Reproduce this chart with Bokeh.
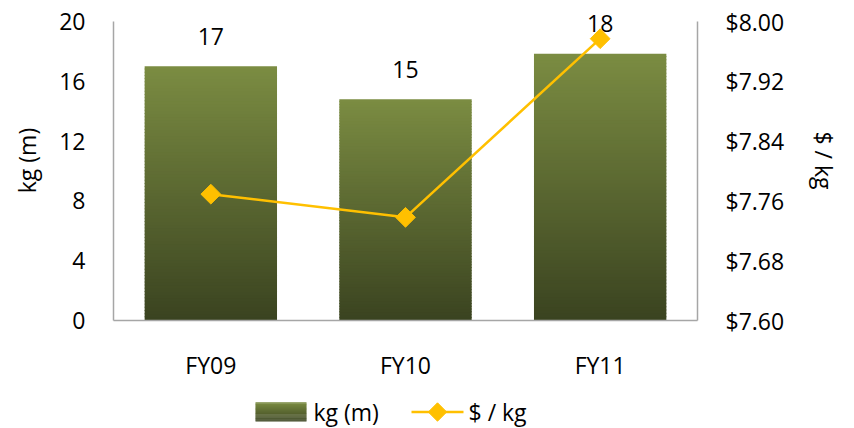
import math
from bokeh.plotting import figure
from bokeh.layouts import column
from bokeh.models import (ColumnDataSource, FactorRange, Range1d, LinearAxis,
                          FixedTicker, NumeralTickFormatter)
from bokeh.core.properties import value
from bokeh.embed import file_html
from bokeh.resources import INLINE

# Data
categories = ["FY09", "FY10", "FY11"]
kg_m = [17.0, 14.8, 17.85]
kg_labels = ["17", "15", "18"]
price_per_kg = [7.769, 7.738, 7.977]
series_names = ["kg (m)", "$ / kg"]
kg_ticks = [0, 4, 8, 12, 16, 20]
price_ticks = [7.60, 7.68, 7.76, 7.84, 7.92, 8.00]

FONT = "Open Sans"
FONT_SIZE = "23px"
AXIS_GRAY = "#a6a6a6"
LINE_COLOR = "#ffc000"
TOP_COLOR = (0x7b, 0x8c, 0x42)
BOTTOM_COLOR = (0x3a, 0x43, 0x20)
BAR_WIDTH = 0.68
N_SLICES = 80

# The plotting frame runs to the top edge so the value labels are not clipped;
# the axis lines stop at the last tick.
FRAME_TOP, FRAME_PLOT_H = 21, 299
HEAD = (FRAME_TOP + FRAME_PLOT_H) / FRAME_PLOT_H
kg_lo, kg_hi = kg_ticks[0], kg_ticks[-1]
pr_lo, pr_hi = price_ticks[0], price_ticks[-1]


def blend(t):
    r = [round(b + (a - b) * t) for a, b in zip(TOP_COLOR, BOTTOM_COLOR)]
    return "#%02x%02x%02x" % tuple(r)


p = figure(width=854, height=394, x_range=FactorRange(*categories, range_padding=0),
           y_range=Range1d(kg_lo, kg_lo + (kg_hi - kg_lo) * HEAD),
           output_backend="svg", toolbar_location=None,
           min_border_left=113, min_border_right=157, min_border_top=0,
           min_border_bottom=74)
p.outline_line_color = None
p.xgrid.grid_line_color = None
p.ygrid.grid_line_color = None

# Bars, filled as a vertical gradient made of thin horizontal slices
sx, sb, st, sc = [], [], [], []
for cat, v in zip(categories, kg_m):
    for i in range(N_SLICES):
        sx.append(cat)
        sb.append(v * i / N_SLICES)
        st.append(v * (i + 1) / N_SLICES + (v / N_SLICES * 0.3 if i < N_SLICES - 1 else 0))
        sc.append(blend((i + 0.5) / N_SLICES))
p.vbar(x="x", bottom="b", top="t", width=BAR_WIDTH, fill_color="c", line_color=None,
       source=ColumnDataSource(dict(x=sx, b=sb, t=st, c=sc)))

# Value labels above bars
p.text(x=categories, y=kg_m, text=kg_labels, text_align="center",
       text_baseline="alphabetic", y_offset=-30, text_font=value(FONT),
       text_font_size=FONT_SIZE, text_color="black")

# Secondary axis for price
p.extra_y_ranges = {"price": Range1d(pr_lo, pr_lo + (pr_hi - pr_lo) * HEAD)}
right = LinearAxis(y_range_name="price", axis_label=series_names[1])
p.add_layout(right, "right")

p.line(x=categories, y=price_per_kg, y_range_name="price",
       line_color=LINE_COLOR, line_width=2.5)
p.scatter(x=categories, y=price_per_kg, y_range_name="price", marker="square",
          angle=math.pi / 4, size=14, fill_color=LINE_COLOR, line_color=LINE_COLOR)

# Axis styling
p.yaxis[0].ticker = FixedTicker(ticks=kg_ticks)
p.yaxis[0].bounds = (kg_lo, kg_hi)
p.yaxis[0].axis_label = series_names[0]
right.ticker = FixedTicker(ticks=price_ticks)
right.bounds = (pr_lo, pr_hi)
right.formatter = NumeralTickFormatter(format="$0.00")
for ax in [p.xaxis[0], p.yaxis[0], right]:
    ax.axis_line_color = AXIS_GRAY
    ax.axis_line_width = 1.5
    ax.major_tick_line_color = None
    ax.minor_tick_line_color = None
    ax.major_label_text_font = FONT
    ax.major_label_text_font_size = FONT_SIZE
    ax.major_label_text_color = "black"
    ax.axis_label_text_font = FONT
    ax.axis_label_text_font_size = FONT_SIZE
    ax.axis_label_text_font_style = "normal"
    ax.axis_label_text_color = "black"
p.xaxis[0].major_label_standoff = 22
p.yaxis[0].major_label_standoff = 22
right.major_label_standoff = 22
p.yaxis[0].axis_label_standoff = 13
right.axis_label_standoff = 21

# Legend strip below the chart (x in page pixels, y in pixels from the strip bottom)
leg = figure(width=854, height=34, x_range=Range1d(113, 697), y_range=Range1d(0, 34),
             output_backend="svg", toolbar_location=None,
             x_axis_location=None, y_axis_location=None,
             min_border_left=113, min_border_right=157, min_border_top=0,
             min_border_bottom=0)
leg.grid.visible = False
leg.outline_line_color = None

# gradient swatch for the bar series
n = 20
sw_bottom = [7 + 19 * i / n for i in range(n)]
sw_top = [7 + 19 * (i + 1) / n + 0.3 for i in range(n)]
sw_col = [blend((i + 0.5) / n) for i in range(n)]
leg.quad(left=255, right=306, bottom=sw_bottom, top=sw_top, fill_color=sw_col,
         line_color=None)
leg.text(x=[313], y=[16.5], text=[series_names[0]], text_baseline="middle",
         text_font=value(FONT), text_font_size=FONT_SIZE, text_color="black")

# line + marker swatch for the price series
leg.line(x=[411, 463], y=[16.5, 16.5], line_color=LINE_COLOR, line_width=2.5)
leg.scatter(x=[437], y=[16.5], marker="square", angle=math.pi / 4, size=13,
            fill_color=LINE_COLOR, line_color=LINE_COLOR)
leg.text(x=[468], y=[16.5], text=[series_names[1]], text_baseline="middle",
         text_font=value(FONT), text_font_size=FONT_SIZE, text_color="black")

open("out.html", "w").write(file_html(column(p, leg, spacing=0), INLINE))
